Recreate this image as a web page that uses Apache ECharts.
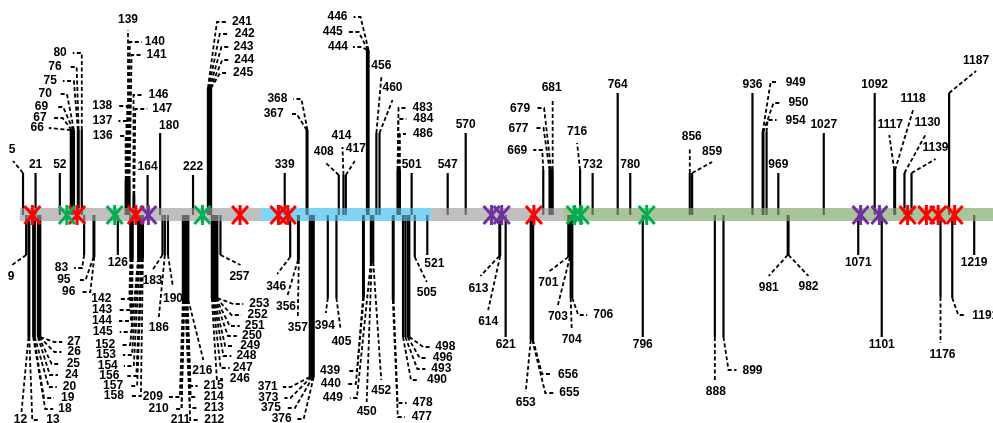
<!DOCTYPE html>
<html>
<head>
<meta charset="utf-8">
<script src="https://cdn.jsdelivr.net/npm/echarts@6/dist/echarts.min.js"></script>
<style>
  html, body { margin: 0; padding: 0; background: #fff; }
  #chart { width: 993px; height: 423px; }
</style>
</head>
<body>
<div id="chart"></div>
<script>
// Spike protein map: mutated residues above / below the domain bar,
// N-glycosylation sites as asterisks on the bar.
const upSites = [5, 21, 52, 66, 67, 69, 70, 75, 76, 80, 136, 137, 138, 139, 140, 141, 146, 147,
  164, 180, 222, 241, 242, 243, 244, 245, 339, 367, 368, 408, 414, 417, 444, 445, 446, 456, 460,
  483, 484, 486, 501, 547, 570, 669, 677, 679, 681, 716, 732, 764, 780, 856, 859, 936, 949, 950,
  954, 969, 1027, 1092, 1117, 1118, 1130, 1139, 1187];
const downSites = [9, 12, 13, 18, 19, 20, 24, 25, 26, 27, 83, 95, 96, 126, 142, 143, 144, 145,
  152, 153, 154, 156, 157, 158, 183, 186, 190, 209, 210, 211, 212, 213, 214, 215, 216, 246, 247,
  248, 249, 250, 251, 252, 253, 257, 346, 356, 357, 371, 373, 375, 376, 394, 405, 439, 440, 449,
  450, 452, 477, 478, 490, 493, 496, 498, 505, 521, 613, 614, 621, 653, 655, 656, 701, 703, 704,
  706, 796, 888, 899, 981, 982, 1071, 1101, 1176, 1191, 1219];
const glycanRed = [17, 74, 149, 282, 331, 343, 657, 1134, 1158, 1173, 1194];
const glycanGreen = [61, 122, 234, 709, 717, 801];
const glycanPurple = [165, 603, 616, 1074, 1098];
const domainStart = [1, 309, 526, 694];
const domainEnd = [309, 526, 694, 1273];
// residue window shown across the page (the C-terminal end runs off the right edge)
const residueMin = 0;
const residueMax = 1243;

// Stem layout per residue: [stem length, leader points [dx px, height], label [dx px, height, anchor]]
const stemLayout = {
  5: [42, [[-10, 54]], [-11, 65, 'c']],
  21: [42], 52: [42],
  66: [85, [[-22, 87]], [-27, 87, 'l']],
  67: [85, [[-9, 97], [-18, 97]], [-25, 97, 'l']],
  69: [85, [[-10, 108], [-17, 108]], [-25, 108, 'l']],
  70: [85, [[-7, 121], [-15, 121]], [-22, 121, 'l']],
  75: [85, [[-4, 134], [-15, 134]], [-21, 134, 'l']],
  76: [85, [[-2, 148], [-10, 148]], [-17, 148, 'l']],
  80: [85, [[0, 162], [-9, 162]], [-15, 162, 'l']],
  136: [35, [[0, 79], [-7, 79]], [-13, 79, 'l']],
  137: [35, [[0, 94], [-8, 94]], [-14, 94, 'l']],
  138: [35, [[0, 109], [-9, 109]], [-15, 109, 'l']],
  139: [35, [[0, 185]], [0, 195, 'c']],
  140: [35, [[1, 173], [13, 173]], [16, 173, 'r']],
  141: [35, [[2, 160], [13, 160]], [17, 160, 'r']],
  146: [20, [[0, 120], [10, 120]], [15, 120, 'r']],
  147: [20, [[1, 106], [13, 106]], [18, 106, 'r']],
  164: [40],
  180: [82, null, [9, 89, 'c']],
  222: [40],
  241: [127, [[9, 193], [19, 193]], [24, 193, 'r']],
  242: [127, [[11, 181], [19, 181]], [26, 181, 'r']],
  243: [127, [[12, 168], [19, 168]], [24, 168, 'r']],
  244: [127, [[12, 155], [19, 155]], [24, 155, 'r']],
  245: [127, [[9, 142], [17, 142]], [22, 142, 'r']],
  339: [42],
  367: [85, [[-10, 101], [-17, 101]], [-23, 101, 'l']],
  368: [85, [[-6, 116], [-14, 116]], [-20, 116, 'l']],
  408: [40, [[-14, 53]], [-15, 63, 'c']],
  414: [40, [[-1, 68]], [-2, 79, 'c']],
  417: [40, [[9, 54]], [10, 66, 'c']],
  444: [165, [[-5, 168], [-14, 168]], [-19, 168, 'l']],
  445: [165, [[-9, 183], [-19, 183]], [-25, 183, 'l']],
  446: [165, [[-8, 198], [-15, 198]], [-21, 198, 'l']],
  456: [82, [[5, 138]], [5, 149, 'c']],
  460: [82, [[13, 115]], [13, 127, 'c']],
  483: [45, [[1, 107], [8, 107]], [15, 107, 'r']],
  484: [45, [[0, 96], [8, 96]], [15, 96, 'r']],
  486: [45, [[0, 81], [6, 81]], [13, 81, 'r']],
  501: [42], 547: [42], 570: [82],
  669: [45, [[-1, 65], [-10, 65]], [-16, 64, 'l']],
  677: [45, [[-6, 87], [-14, 87]], [-21, 86, 'l']],
  679: [45, [[-7, 107], [-14, 107]], [-21, 106, 'l']],
  681: [45, [[0, 116]], [-1, 127, 'c']],
  716: [45, [[-3, 72]], [-3, 83, 'c']],
  732: [42], 764: [122], 780: [42],
  856: [42, [[0, 68]], [2, 78, 'c']],
  859: [42, [[20, 53]], [20, 63, 'c']],
  936: [122],
  949: [83, [[8, 133], [14, 133]], [23, 132, 'r']],
  950: [83, [[10, 112], [18, 112]], [25, 112, 'r']],
  954: [83, [[1, 95], [10, 95]], [19, 94, 'r']],
  969: [42], 1027: [82], 1092: [122],
  1117: [45, [[-5, 80]], [-4, 90, 'c']],
  1118: [45, [[18, 105]], [18, 116, 'c']],
  1130: [42, [[22, 82]], [23, 92, 'c']],
  1139: [42, [[24, 56]], [24, 67, 'c']],
  1187: [122, [[27, 144]], [27, 154, 'c']],

  9: [-40, [[-14, -50]], [-15, -62, 'c']],
  12: [-122, [[-7, -197]], [-8, -205, 'c']],
  13: [-122, [[3, -205], [11, -205]], [17, -205, 'r']],
  18: [-122, [[12, -194], [20, -194]], [25, -194, 'r']],
  19: [-122, [[10, -183], [20, -183]], [27, -183, 'r']],
  20: [-122, [[14, -172], [22, -172]], [28, -172, 'r']],
  24: [-122, [[12, -160], [20, -160]], [27, -160, 'r']],
  25: [-122, [[13, -149], [21, -149]], [28, -149, 'r']],
  26: [-122, [[15, -137], [22, -137]], [28, -137, 'r']],
  27: [-122, [[14, -127], [22, -127]], [27, -127, 'r']],
  83: [-40, [[-2, -53], [-10, -53]], [-16, -53, 'l']],
  95: [-42, [[-8, -65], [-16, -65]], [-23, -65, 'l']],
  96: [-42, [[-4, -77], [-12, -77]], [-19, -77, 'l']],
  126: [-40],
  142: [-43, [[-1, -84], [-12, -84]], [-19, -84, 'l']],
  143: [-43, [[-1, -95], [-12, -95]], [-19, -95, 'l']],
  144: [-43, [[-1, -106], [-13, -106]], [-20, -106, 'l']],
  145: [-43, [[-1, -117], [-13, -117]], [-20, -117, 'l']],
  152: [-43, [[-8, -130], [-16, -130]], [-23, -130, 'l']],
  153: [-43, [[-7, -140], [-16, -140]], [-23, -140, 'l']],
  154: [-43, [[-6, -151], [-16, -151]], [-22, -151, 'l']],
  156: [-43, [[-5, -161], [-14, -161]], [-22, -161, 'l']],
  157: [-43, [[-5, -171], [-13, -171]], [-19, -171, 'l']],
  158: [-43, [[-2, -181], [-13, -181]], [-19, -181, 'l']],
  183: [-40, [[-10, -55]], [-10, -66, 'c']],
  186: [-40, [[-6, -102]], [-6, -113, 'c']],
  190: [-40, [[5, -72]], [5, -84, 'c']],
  209: [-85, [[-3, -182], [-14, -182]], [-20, -182, 'l']],
  210: [-85, [[-2, -194], [-8, -194]], [-15, -194, 'l']],
  211: [-85, [[-3, -195]], [-4, -205, 'c']],
  212: [-85, [[5, -205], [13, -205]], [19, -205, 'r']],
  213: [-85, [[4, -193], [13, -193]], [18, -193, 'r']],
  214: [-85, [[4, -182], [11, -182]], [17, -182, 'r']],
  215: [-85, [[3, -171], [10, -171]], [16, -171, 'r']],
  216: [-85, [[15, -145]], [14, -156, 'c']],
  246: [-83, [[5, -164], [11, -164]], [18, -164, 'r']],
  247: [-83, [[8, -153], [17, -153]], [20, -153, 'r']],
  248: [-83, [[10, -141], [18, -141]], [23, -141, 'r']],
  249: [-83, [[11, -131], [20, -131]], [26, -131, 'r']],
  250: [-83, [[13, -121], [22, -121]], [27, -121, 'r']],
  251: [-83, [[14, -111], [24, -111]], [29, -111, 'r']],
  252: [-83, [[15, -100], [25, -100]], [31, -100, 'r']],
  253: [-83, [[16, -89], [26, -89]], [32, -89, 'r']],
  257: [-40, [[20, -50]], [19, -62, 'c']],
  346: [-42, [[-13, -59]], [-14, -72, 'c']],
  356: [-45, [[-11, -82]], [-12, -92, 'c']],
  357: [-45, [[-1, -102]], [-1, -113, 'c']],
  371: [-162, [[-19, -172], [-27, -172]], [-32, -172, 'l']],
  373: [-162, [[-21, -183], [-27, -183]], [-33, -183, 'l']],
  375: [-162, [[-18, -193], [-26, -193]], [-32, -193, 'l']],
  376: [-162, [[-10, -204], [-17, -204]], [-22, -204, 'l']],
  394: [-83, [[-2, -98]], [-3, -111, 'c']],
  405: [-83, [[4, -113]], [5, -127, 'c']],
  439: [-82, [[-6, -156], [-16, -156]], [-23, -156, 'l']],
  440: [-82, [[-8, -169], [-16, -169]], [-23, -169, 'l']],
  449: [-47, [[-14, -183], [-21, -183]], [-28, -183, 'l']],
  450: [-47, [[-5, -187]], [-5, -197, 'c']],
  452: [-47, [[8, -165]], [8, -176, 'c']],
  477: [-85, [[5, -202], [12, -202]], [19, -202, 'r']],
  478: [-85, [[4, -188], [13, -188]], [19, -188, 'r']],
  490: [-122, [[8, -165], [15, -165]], [24, -165, 'r']],
  493: [-122, [[12, -154], [20, -154]], [26, -154, 'r']],
  496: [-122, [[12, -143], [19, -143]], [25, -143, 'r']],
  498: [-122, [[14, -132], [21, -132]], [26, -132, 'r']],
  505: [-42, [[12, -67]], [12, -78, 'c']],
  521: [-40, null, [7, -49, 'c']],
  613: [-41, [[-19, -61]], [-21, -74, 'c']],
  614: [-41, [[-12, -95]], [-12, -107, 'c']],
  621: [-122],
  653: [-125, [[-5, -177]], [-5, -188, 'c']],
  655: [-125, [[13, -178], [21, -178]], [27, -178, 'r']],
  656: [-125, [[9, -159], [19, -159]], [25, -160, 'r']],
  701: [-42, [[-20, -57]], [-20, -68, 'c']],
  703: [-42, [[-12, -90]], [-12, -102, 'c']],
  704: [-83, [[1, -113]], [1, -125, 'c']],
  706: [-83, [[6, -100], [15, -100]], [21, -100, 'r']],
  796: [-122],
  888: [-122, [[0, -165]], [1, -177, 'c']],
  899: [-122, [[5, -155], [13, -155]], [19, -156, 'r']],
  981: [-40, [[-19, -61]], [-19, -73, 'c']],
  982: [-40, [[20, -61]], [20, -72, 'c']],
  1071: [-40], 1101: [-122],
  1176: [-82, [[0, -128]], [2, -140, 'c']],
  1191: [-83, [[6, -100], [13, -100]], [20, -101, 'r']],
  1219: [-40]
};

const domainColors = ['#bfbfbf', '#7fd3f4', '#bfbfbf', '#a9c49b'];
const glycanColors = { red: '#ff0000', green: '#00b050', purple: '#7030a0' };
const LABEL_FONT = 'bold 12px "Liberation Sans", Arial, sans-serif';
const BAR_TOP = 7, BAR_BOTTOM = -6;

function renderStem(params, api) {
  const r = api.value(0);
  const L = stemLayout[r];
  const s = L[0];
  const dir = s > 0 ? 1 : -1;
  const base = api.coord([r, 0]);
  const tip = api.coord([r, s]);
  const X = base[0];
  const yOf = v => api.coord([r, v])[1];
  const children = [{
    type: 'line',
    shape: { x1: X, y1: base[1], x2: X, y2: tip[1] },
    style: { stroke: '#000', lineWidth: 2.2 }
  }];
  const pts = L[1] || [];
  if (pts.length) {
    const poly = [[X, tip[1]]].concat(pts.map(p => [X + p[0], yOf(p[1])]));
    children.push({
      type: 'polyline',
      shape: { points: poly },
      style: { stroke: '#000', lineWidth: 1.8, lineDash: [4, 2.5], fill: null }
    });
  }
  const lab = L[2];
  let lx, ly, align = 'center';
  if (lab) {
    lx = X + lab[0];
    ly = yOf(lab[1]);
    align = { c: 'center', l: 'right', r: 'left' }[lab[2]];
  } else {
    lx = X;
    ly = yOf(s + dir * 8);
  }
  children.push({
    type: 'text',
    style: { text: String(r), x: lx, y: ly, align: align, verticalAlign: 'middle', font: LABEL_FONT, fill: '#000' }
  });
  return { type: 'group', children: children };
}

function domainSeries(opacity, z) {
  return {
    type: 'custom',
    z: z,
    silent: true,
    data: domainStart.map((s, i) => [s, domainEnd[i], i]),
    renderItem: function (params, api) {
      const a = api.coord([api.value(0), BAR_TOP]);
      const b = api.coord([api.value(1), BAR_BOTTOM]);
      return {
        type: 'rect',
        shape: { x: a[0], y: a[1], width: b[0] - a[0], height: b[1] - a[1] },
        style: { fill: domainColors[api.value(2)], opacity: opacity }
      };
    }
  };
}

function glycanSeries(list, color) {
  return {
    type: 'custom',
    z: 4,
    silent: true,
    data: list.map(r => [r, 0]),
    renderItem: function (params, api) {
      const c = api.coord([api.value(0), 0]);
      const w = 8, h = 9;
      const st = { stroke: color, lineWidth: 3 };
      return {
        type: 'group',
        children: [
          { type: 'line', shape: { x1: c[0] - w, y1: c[1] - h, x2: c[0] + w, y2: c[1] + h }, style: st },
          { type: 'line', shape: { x1: c[0] - w, y1: c[1] + h, x2: c[0] + w, y2: c[1] - h }, style: st },
          { type: 'line', shape: { x1: c[0], y1: c[1] - h - 1, x2: c[0], y2: c[1] + h + 1 }, style: st }
        ]
      };
    }
  };
}

const chart = echarts.init(document.getElementById('chart'), null, { renderer: 'canvas' });
chart.setOption({
  animation: false,
  backgroundColor: '#ffffff',
  grid: { left: 19.1, top: 0, right: 0, bottom: 0 },
  xAxis: { type: 'value', min: residueMin, max: residueMax, show: false },
  yAxis: { type: 'value', min: -208, max: 215, show: false },
  series: [
    domainSeries(1, 1),
    {
      type: 'custom',
      z: 2,
      silent: true,
      data: upSites.concat(downSites).map(r => [r, 0]),
      renderItem: renderStem
    },
    domainSeries(0.55, 3),
    glycanSeries(glycanRed, glycanColors.red),
    glycanSeries(glycanGreen, glycanColors.green),
    glycanSeries(glycanPurple, glycanColors.purple)
  ]
});
</script>
</body>
</html>
